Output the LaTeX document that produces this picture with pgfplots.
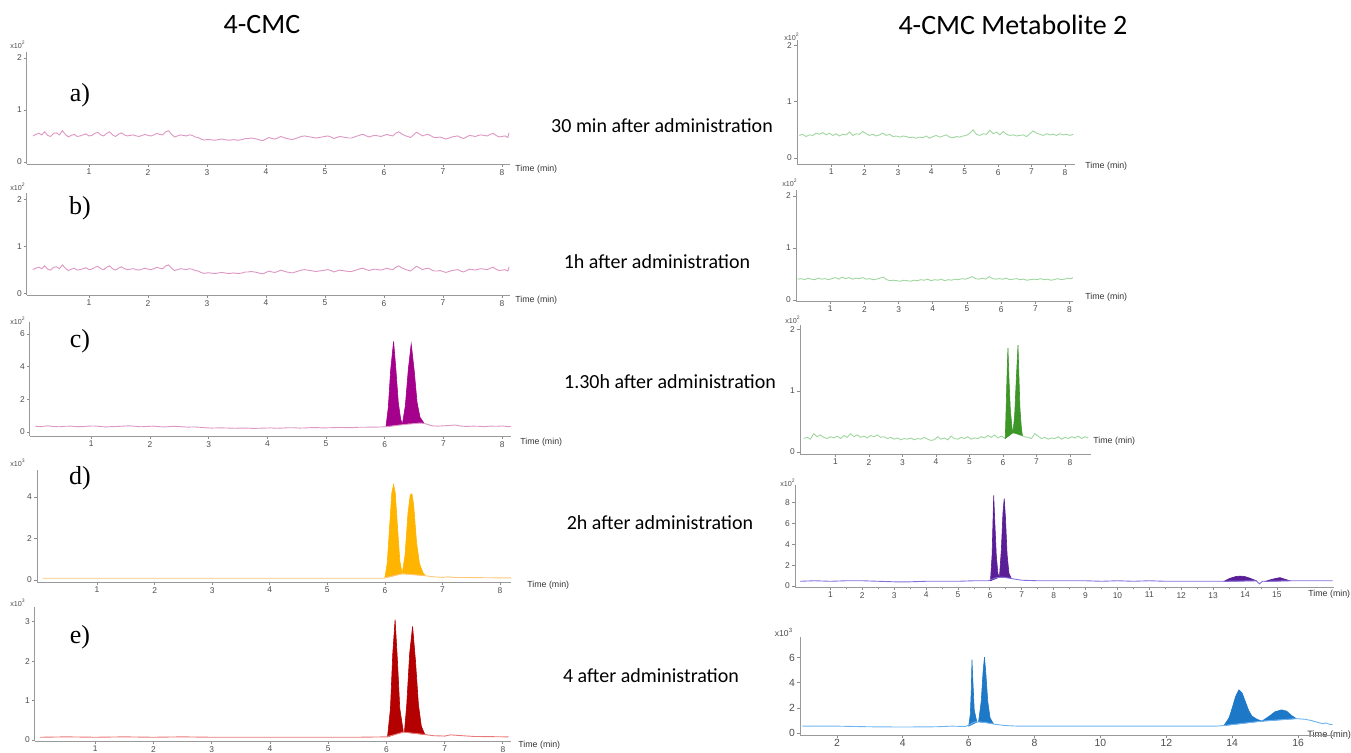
\documentclass[border=0pt]{standalone}
\usepackage{fontspec}
\setmainfont{Carlito}
\newfontfamily\tf{Liberation Sans}
\newfontfamily\serifL{Liberation Serif}
\usepackage{pgfplots}
\usepackage{pgfplotstable}
\pgfplotsset{compat=1.18}

\definecolor{pinkline}{RGB}{222,150,196}
\definecolor{magfill}{RGB}{165,0,140}
\definecolor{orfill}{RGB}{255,180,0}
\definecolor{orline}{RGB}{255,200,120}
\definecolor{redfill}{RGB}{180,0,0}
\definecolor{redline}{RGB}{235,120,120}
\definecolor{grline}{RGB}{160,215,160}
\definecolor{grfill}{RGB}{60,150,40}
\definecolor{pufill}{RGB}{90,30,150}
\definecolor{puline}{RGB}{130,110,220}
\definecolor{blfill}{RGB}{30,120,200}
\definecolor{blline}{RGB}{110,180,240}

% left a / b baseline (x10^2)
\pgfplotstableread[row sep=\\]{x y\\
0.05 0.50\\ 0.10 0.53\\ 0.15 0.55\\ 0.20 0.52\\ 0.25 0.58\\ 0.30 0.51\\ 0.35 0.49\\ 0.40 0.55\\ 0.45 0.56\\ 0.50 0.52\\ 0.55 0.60\\ 0.60 0.53\\ 0.65 0.48\\ 0.70 0.51\\ 0.75 0.53\\ 0.80 0.49\\ 0.85 0.50\\ 0.90 0.52\\ 0.95 0.54\\ 1.00 0.50\\
1.05 0.51\\ 1.10 0.55\\ 1.15 0.57\\ 1.20 0.52\\ 1.25 0.50\\ 1.30 0.55\\ 1.35 0.58\\ 1.40 0.52\\ 1.45 0.49\\ 1.50 0.53\\ 1.55 0.56\\ 1.60 0.52\\ 1.65 0.50\\ 1.70 0.51\\ 1.75 0.52\\ 1.80 0.50\\ 1.85 0.49\\ 1.90 0.51\\ 1.95 0.53\\ 2.00 0.51\\
2.05 0.50\\ 2.10 0.52\\ 2.15 0.55\\ 2.20 0.53\\ 2.25 0.52\\ 2.30 0.58\\ 2.35 0.60\\ 2.40 0.53\\ 2.45 0.48\\ 2.50 0.50\\ 2.55 0.52\\ 2.60 0.51\\ 2.65 0.50\\ 2.70 0.52\\ 2.75 0.51\\ 2.80 0.48\\ 2.85 0.47\\ 2.90 0.44\\ 2.95 0.42\\ 3.00 0.43\\
3.05 0.43\\ 3.10 0.42\\ 3.15 0.42\\ 3.20 0.43\\ 3.25 0.44\\ 3.30 0.43\\ 3.35 0.42\\ 3.40 0.42\\ 3.45 0.43\\ 3.50 0.42\\ 3.55 0.42\\ 3.60 0.43\\ 3.65 0.45\\ 3.70 0.45\\ 3.75 0.46\\ 3.80 0.45\\ 3.85 0.44\\ 3.90 0.42\\ 3.95 0.41\\ 4.00 0.44\\
4.05 0.47\\ 4.10 0.45\\ 4.15 0.44\\ 4.20 0.46\\ 4.25 0.49\\ 4.30 0.47\\ 4.35 0.45\\ 4.40 0.44\\ 4.45 0.43\\ 4.50 0.45\\ 4.55 0.47\\ 4.60 0.49\\ 4.65 0.50\\ 4.70 0.49\\ 4.75 0.48\\ 4.80 0.47\\ 4.85 0.46\\ 4.90 0.47\\ 4.95 0.48\\ 5.00 0.49\\
5.05 0.50\\ 5.10 0.48\\ 5.15 0.45\\ 5.20 0.47\\ 5.25 0.49\\ 5.30 0.48\\ 5.35 0.47\\ 5.40 0.46\\ 5.45 0.46\\ 5.50 0.48\\ 5.55 0.50\\ 5.60 0.52\\ 5.65 0.53\\ 5.70 0.50\\ 5.75 0.48\\ 5.80 0.50\\ 5.85 0.51\\ 5.90 0.50\\ 5.95 0.49\\ 6.00 0.51\\
6.05 0.53\\ 6.10 0.51\\ 6.15 0.50\\ 6.20 0.55\\ 6.25 0.58\\ 6.30 0.54\\ 6.35 0.51\\ 6.40 0.49\\ 6.45 0.47\\ 6.50 0.52\\ 6.55 0.57\\ 6.60 0.54\\ 6.65 0.50\\ 6.70 0.52\\ 6.75 0.53\\ 6.80 0.50\\ 6.85 0.47\\ 6.90 0.47\\ 6.95 0.48\\ 7.00 0.46\\
7.05 0.44\\ 7.10 0.46\\ 7.15 0.48\\ 7.20 0.49\\ 7.25 0.50\\ 7.30 0.47\\ 7.35 0.45\\ 7.40 0.48\\ 7.45 0.51\\ 7.50 0.50\\ 7.55 0.49\\ 7.60 0.51\\ 7.65 0.52\\ 7.70 0.51\\ 7.75 0.50\\ 7.80 0.53\\ 7.85 0.55\\ 7.90 0.51\\ 7.95 0.48\\ 8.00 0.49\\
8.05 0.50\\ 8.10 0.47\\ 8.12 0.56\\
}\tabAB

% right a baseline
\pgfplotstableread[row sep=\\]{x y\\
0.05 0.40\\ 0.15 0.42\\ 0.25 0.38\\ 0.35 0.41\\ 0.45 0.40\\ 0.55 0.44\\ 0.65 0.42\\ 0.75 0.45\\ 0.85 0.41\\ 0.95 0.44\\
1.05 0.40\\ 1.15 0.43\\ 1.25 0.39\\ 1.35 0.42\\ 1.45 0.41\\ 1.55 0.46\\ 1.65 0.40\\ 1.75 0.43\\ 1.85 0.42\\ 1.95 0.47\\
2.05 0.43\\ 2.15 0.40\\ 2.25 0.42\\ 2.35 0.39\\ 2.45 0.41\\ 2.55 0.44\\ 2.65 0.40\\ 2.75 0.42\\ 2.85 0.38\\ 2.95 0.39\\
3.05 0.37\\ 3.15 0.39\\ 3.25 0.38\\ 3.35 0.36\\ 3.45 0.37\\ 3.55 0.35\\ 3.65 0.37\\ 3.75 0.36\\ 3.85 0.39\\ 3.95 0.35\\
4.05 0.38\\ 4.15 0.40\\ 4.25 0.37\\ 4.35 0.39\\ 4.45 0.41\\ 4.55 0.37\\ 4.65 0.36\\ 4.75 0.38\\ 4.85 0.37\\ 4.95 0.39\\
5.05 0.40\\ 5.15 0.44\\ 5.25 0.50\\ 5.35 0.42\\ 5.45 0.40\\ 5.55 0.43\\ 5.65 0.42\\ 5.75 0.49\\ 5.85 0.43\\ 5.95 0.46\\
6.05 0.41\\ 6.15 0.47\\ 6.25 0.42\\ 6.35 0.40\\ 6.45 0.41\\ 6.55 0.39\\ 6.65 0.40\\ 6.75 0.41\\ 6.85 0.38\\ 6.95 0.43\\
7.05 0.48\\ 7.15 0.44\\ 7.25 0.42\\ 7.35 0.40\\ 7.45 0.43\\ 7.55 0.41\\ 7.65 0.42\\ 7.75 0.40\\ 7.85 0.43\\ 7.95 0.41\\
8.05 0.42\\ 8.15 0.40\\ 8.25 0.42\\
}\tabRA

% right b baseline
\pgfplotstableread[row sep=\\]{x y\\
0.05 0.40\\ 0.15 0.41\\ 0.25 0.39\\ 0.35 0.42\\ 0.45 0.40\\ 0.55 0.39\\ 0.65 0.42\\ 0.75 0.40\\ 0.85 0.41\\ 0.95 0.39\\
1.05 0.41\\ 1.15 0.43\\ 1.25 0.40\\ 1.35 0.44\\ 1.45 0.41\\ 1.55 0.43\\ 1.65 0.40\\ 1.75 0.42\\ 1.85 0.41\\ 1.95 0.43\\
2.05 0.40\\ 2.15 0.41\\ 2.25 0.39\\ 2.35 0.40\\ 2.45 0.42\\ 2.55 0.44\\ 2.65 0.39\\ 2.75 0.37\\ 2.85 0.38\\ 2.95 0.37\\
3.05 0.36\\ 3.15 0.38\\ 3.25 0.37\\ 3.35 0.36\\ 3.45 0.38\\ 3.55 0.37\\ 3.65 0.39\\ 3.75 0.38\\ 3.85 0.40\\ 3.95 0.37\\
4.05 0.39\\ 4.15 0.38\\ 4.25 0.40\\ 4.35 0.37\\ 4.45 0.39\\ 4.55 0.38\\ 4.65 0.40\\ 4.75 0.39\\ 4.85 0.41\\ 4.95 0.40\\
5.05 0.42\\ 5.15 0.45\\ 5.25 0.41\\ 5.35 0.40\\ 5.45 0.42\\ 5.55 0.40\\ 5.65 0.45\\ 5.75 0.41\\ 5.85 0.40\\ 5.95 0.41\\
6.05 0.40\\ 6.15 0.42\\ 6.25 0.39\\ 6.35 0.40\\ 6.45 0.41\\ 6.55 0.39\\ 6.65 0.40\\ 6.75 0.38\\ 6.85 0.39\\ 6.95 0.40\\
7.05 0.39\\ 7.15 0.41\\ 7.25 0.39\\ 7.35 0.40\\ 7.45 0.38\\ 7.55 0.39\\ 7.65 0.41\\ 7.75 0.39\\ 7.85 0.40\\ 7.95 0.42\\
8.05 0.41\\ 8.10 0.43\\
}\tabRB

% right c baseline
\pgfplotstableread[row sep=\\]{x y\\
0.05 0.22\\ 0.15 0.24\\ 0.25 0.21\\ 0.35 0.30\\ 0.45 0.25\\ 0.55 0.28\\ 0.65 0.24\\ 0.75 0.22\\ 0.85 0.25\\ 0.95 0.23\\
1.05 0.26\\ 1.15 0.22\\ 1.25 0.27\\ 1.35 0.24\\ 1.45 0.30\\ 1.55 0.25\\ 1.65 0.28\\ 1.75 0.24\\ 1.85 0.26\\ 1.95 0.23\\
2.05 0.27\\ 2.15 0.25\\ 2.25 0.28\\ 2.35 0.24\\ 2.45 0.25\\ 2.55 0.22\\ 2.65 0.24\\ 2.75 0.21\\ 2.85 0.23\\ 2.95 0.20\\
3.05 0.22\\ 3.15 0.21\\ 3.25 0.23\\ 3.35 0.20\\ 3.45 0.22\\ 3.55 0.21\\ 3.65 0.24\\ 3.75 0.21\\ 3.85 0.19\\ 3.95 0.20\\
4.05 0.25\\ 4.15 0.21\\ 4.25 0.23\\ 4.35 0.20\\ 4.45 0.26\\ 4.55 0.22\\ 4.65 0.21\\ 4.75 0.24\\ 4.85 0.22\\ 4.95 0.25\\
5.05 0.21\\ 5.15 0.23\\ 5.25 0.22\\ 5.35 0.25\\ 5.45 0.23\\ 5.55 0.27\\ 5.65 0.24\\ 5.75 0.28\\ 5.85 0.23\\ 5.95 0.26\\
6.05 0.23\\ 6.15 0.26\\ 6.25 0.30\\ 6.35 0.31\\ 6.45 0.29\\ 6.55 0.27\\ 6.65 0.25\\ 6.75 0.24\\ 6.85 0.22\\ 6.95 0.30\\
7.05 0.26\\ 7.15 0.22\\ 7.25 0.24\\ 7.35 0.21\\ 7.45 0.23\\ 7.55 0.22\\ 7.65 0.25\\ 7.75 0.21\\ 7.85 0.24\\ 7.95 0.22\\
8.05 0.25\\ 8.15 0.23\\ 8.25 0.26\\ 8.35 0.22\\ 8.45 0.25\\ 8.55 0.23\\
}\tabRC

% left c baseline
\pgfplotstableread[row sep=\\]{x y\\
0.05 0.35\\ 0.15 0.33\\ 0.25 0.38\\ 0.35 0.34\\ 0.45 0.32\\ 0.55 0.35\\ 0.65 0.36\\ 0.75 0.33\\ 0.85 0.33\\ 0.95 0.36\\
1.05 0.37\\ 1.15 0.34\\ 1.25 0.31\\ 1.35 0.33\\ 1.45 0.34\\ 1.55 0.36\\ 1.65 0.38\\ 1.75 0.35\\ 1.85 0.32\\ 1.95 0.34\\
2.05 0.36\\ 2.15 0.33\\ 2.25 0.31\\ 2.35 0.34\\ 2.45 0.35\\ 2.55 0.32\\ 2.65 0.30\\ 2.75 0.31\\ 2.85 0.29\\ 2.95 0.26\\
3.05 0.24\\ 3.15 0.25\\ 3.25 0.25\\ 3.35 0.24\\ 3.45 0.23\\ 3.55 0.24\\ 3.65 0.24\\ 3.75 0.22\\ 3.85 0.23\\ 3.95 0.24\\
4.05 0.25\\ 4.15 0.23\\ 4.25 0.24\\ 4.35 0.26\\ 4.45 0.26\\ 4.55 0.24\\ 4.65 0.25\\ 4.75 0.27\\ 4.85 0.27\\ 4.95 0.25\\
5.05 0.26\\ 5.15 0.27\\ 5.25 0.28\\ 5.35 0.27\\ 5.45 0.27\\ 5.55 0.29\\ 5.65 0.29\\ 5.75 0.30\\ 5.85 0.30\\ 5.95 0.31\\
6.05 0.34\\ 6.20 0.40\\ 6.40 0.48\\ 6.60 0.55\\ 6.70 0.50\\ 6.80 0.38\\ 6.90 0.36\\ 7.00 0.38\\ 7.10 0.40\\ 7.20 0.43\\
7.30 0.36\\ 7.40 0.34\\ 7.50 0.36\\ 7.60 0.35\\ 7.70 0.33\\ 7.80 0.36\\ 7.90 0.35\\ 8.00 0.37\\ 8.10 0.33\\ 8.15 0.34\\
}\tabLC

\pgfplotsset{
  chrom/.style={
    scale only axis, anchor=south west,
    axis x line*=bottom, axis y line*=left,
    axis line style={-, draw=black!40, line width=0.5pt},
    tick style={draw=black!45, line width=0.4pt},
    major tick length=1.6pt, tick align=outside,
    ticklabel style={font=\tf\fontsize{4.2}{5}\selectfont, text=black!70},
    xticklabel style={inner sep=0.8pt},
    yticklabel style={inner sep=0.8pt},
    /pgf/number format/assume math mode=true,
    scaled ticks=false,
    xtick={1,...,8},
  },
  base/.style={line width=0.45pt, #1},
  peak/.style={fill=#1, draw=#1, line width=0.3pt},
}

\begin{document}
\begin{tikzpicture}
\useasboundingbox (0,0) rectangle (675.5pt,376pt);

% ---------- titles & labels ----------
\node[font=\fontsize{14}{16}\selectfont] at (131pt,363.5pt) {4-CMC};
\node[font=\fontsize{14}{16}\selectfont] at (506.5pt,363.5pt) {4-CMC Metabolite 2};
\node[font=\fontsize{10}{12}\selectfont] at (331pt,313pt) {30 min after administration};
\node[font=\fontsize{10}{12}\selectfont] at (328.5pt,245pt) {1h after administration};
\node[font=\fontsize{10}{12}\selectfont] at (335pt,185pt) {1.30h after administration};
\node[font=\fontsize{10}{12}\selectfont] at (330pt,114.5pt) {2h after administration};
\node[font=\fontsize{10}{12}\selectfont] at (325.5pt,38pt) {4 after administration};
\foreach \l/\yy in {a)/328.5, b)/272, c)/205.5, d)/137, e)/57.5}
  \node[font=\serifL\fontsize{13}{14}\selectfont] at (40pt,\yy pt) {\l};

% multipliers
\foreach \xx/\yy/\m in {9/353.5/2, 9/282.5/2, 9/215.5/2, 9/144.5/3, 9/74.5/3, 396/357.5/2, 395/284.5/2, 396.5/216/2, 394/134.5/2}
  \node[font=\tf\fontsize{3.6}{4}\selectfont, text=black!70] at (\xx pt,\yy pt) {x10\textsuperscript{\m}};
\node[font=\tf\fontsize{4.3}{5}\selectfont, text=black!70] at (392pt,60pt) {x10\textsuperscript{3}};

% Time (min)
\foreach \xx/\yy in {257.5/291.5, 257.5/226, 260/155, 263.5/83.5, 259/3.5, 542.5/293, 542.5/227.5, 546.5/155.5, 654/79}
  \node[anchor=west, font=\tf\fontsize{4.4}{5}\selectfont, text=black!80, inner sep=0pt] at (\xx pt,\yy pt) {Time (min)};
\node[anchor=west, font=\tf\fontsize{4.6}{5}\selectfont, text=black!80, inner sep=0pt] at (653.5pt,8.5pt) {Time (min)};

% ---------- left a ----------
\begin{axis}[chrom, at={(13.5pt,294pt)}, width=241.5pt, height=56pt,
  xmin=-0.05, xmax=8.136, ymin=-0.04, ymax=2.115, ytick={0,1,2}]
\addplot[base=pinkline] table[x=x,y=y] {\tabAB};
\end{axis}

% ---------- left b ----------
\begin{axis}[chrom, at={(13.5pt,228.5pt)}, width=241.5pt, height=51pt,
  xmin=-0.05, xmax=8.136, ymin=-0.04, ymax=2.13, ytick={0,1,2}]
\addplot[base=pinkline] table[x=x,y=y] {\tabAB};
\end{axis}

% ---------- left c ----------
\begin{axis}[chrom, at={(15pt,158pt)}, width=240.5pt, height=57pt,
  xmin=-0.043, xmax=8.15, ymin=-0.245, ymax=6.74, ytick={0,2,4,6}]
\addplot[peak=magfill] coordinates {(6.02,0.32) (6.06,1.5) (6.10,3.8) (6.15,5.55) (6.19,3.8) (6.23,1.8) (6.27,0.8) (6.30,0.48)} -- cycle;
\addplot[peak=magfill] coordinates {(6.30,0.48) (6.35,1.6) (6.40,3.8) (6.45,5.4) (6.50,3.8) (6.55,1.8) (6.60,0.9) (6.66,0.58)} -- cycle;
\addplot[base=pinkline] table[x=x,y=y] {\tabLC};
\end{axis}

% ---------- left d ----------
\begin{axis}[chrom, at={(18.5pt,85pt)}, width=237pt, height=56pt,
  xmin=-0.043, xmax=8.19, ymin=-0.1, ymax=5.3, ytick={0,2,4}]
\addplot[peak=orfill] coordinates {(6.00,0.10) (6.04,0.8) (6.08,2.5) (6.12,4.2) (6.15,4.6) (6.18,4.2) (6.22,2.5) (6.26,0.9) (6.30,0.30)} -- cycle;
\addplot[peak=orfill] coordinates {(6.30,0.30) (6.35,1.2) (6.40,3.2) (6.44,4.1) (6.47,4.15) (6.50,3.6) (6.55,1.8) (6.60,0.8) (6.66,0.35) (6.70,0.22)} -- cycle;
\addplot[base=orline] coordinates {(0.05,0.08) (1,0.08) (2,0.08) (3,0.08) (4,0.08) (5,0.08) (5.97,0.08) (6.15,0.2) (6.30,0.30) (6.50,0.25) (6.70,0.20) (6.85,0.15) (7.00,0.12) (7.10,0.15) (7.20,0.12) (8.0,0.10) (8.19,0.10)};
\end{axis}

% ---------- left e ----------
\begin{axis}[chrom, at={(17.5pt,5.5pt)}, width=238pt, height=67pt,
  xmin=-0.034, xmax=8.14, ymin=-0.025, ymax=3.37, ytick={0,1,2,3}]
\addplot[peak=redfill] coordinates {(6.02,0.08) (6.07,0.8) (6.11,2.2) (6.15,3.05) (6.19,2.0) (6.23,0.8) (6.29,0.22)} -- cycle;
\addplot[peak=redfill] coordinates {(6.31,0.20) (6.35,0.9) (6.40,2.2) (6.45,2.88) (6.50,2.0) (6.55,0.9) (6.60,0.35) (6.66,0.14)} -- cycle;
\addplot[base=redline] coordinates {(0.05,0.07) (0.5,0.08) (1,0.07) (1.5,0.08) (2,0.07) (2.5,0.08) (3,0.07) (3.5,0.07) (4,0.07) (4.5,0.07) (5,0.07) (5.5,0.07) (6.0,0.08) (6.3,0.2) (6.66,0.14) (6.8,0.11) (7.0,0.10) (7.1,0.13) (7.5,0.09) (8.1,0.08)};
\end{axis}

% ---------- right a ----------
\begin{axis}[chrom, at={(398.5pt,294pt)}, width=139pt, height=62pt,
  xmin=-0.02, xmax=8.3, ymin=-0.106, ymax=2.09, ytick={0,1,2}]
\addplot[base=grline] table[x=x,y=y] {\tabRA};
\end{axis}

% ---------- right b ----------
\begin{axis}[chrom, at={(398pt,225.5pt)}, width=138.5pt, height=55.5pt,
  xmin=0, xmax=8.1, ymin=-0.02, ymax=2.115, ytick={0,1,2}]
\addplot[base=grline] table[x=x,y=y] {\tabRB};
\end{axis}

% ---------- right c ----------
\begin{axis}[chrom, at={(400pt,149pt)}, width=145.5pt, height=64.5pt,
  xmin=-0.06, xmax=8.63, ymin=-0.033, ymax=2.08, ytick={0,1,2}]
\addplot[base=grline] table[x=x,y=y] {\tabRC};
\addplot[peak=grfill] coordinates {(6.07,0.22) (6.10,0.8) (6.13,1.4) (6.15,1.70) (6.18,1.2) (6.22,0.7) (6.27,0.4) (6.30,0.32)} -- cycle;
\addplot[peak=grfill] coordinates {(6.30,0.32) (6.35,0.6) (6.40,1.2) (6.45,1.75) (6.48,1.2) (6.51,0.7) (6.55,0.4) (6.58,0.27)} -- cycle;
\end{axis}

% ---------- right d ----------
\begin{axis}[chrom, at={(397.5pt,82.5pt)}, width=269.5pt, height=51pt,
  xmin=-0.11, xmax=16.79, ymin=-0.1, ymax=9.7, ytick={0,2,4,6,8}, xtick={1,...,15},
  minor x tick num=1, minor tick length=1.2pt]
\addplot[peak=pufill] coordinates {(6.02,0.5) (6.07,3) (6.10,6.5) (6.12,8.7) (6.15,6.5) (6.20,3) (6.25,1.2) (6.30,0.85)} -- cycle;
\addplot[peak=pufill] coordinates {(6.30,0.85) (6.36,3.5) (6.41,7) (6.45,8.4) (6.49,6.5) (6.54,3) (6.60,1.2) (6.66,0.8)} -- cycle;
\addplot[peak=pufill] coordinates {(13.35,0.45) (13.5,0.7) (13.7,0.9) (13.85,0.95) (14.0,0.9) (14.15,0.75) (14.35,0.5)} -- cycle;
\addplot[peak=pufill] coordinates {(14.65,0.45) (14.8,0.6) (15.0,0.75) (15.1,0.8) (15.25,0.65) (15.4,0.5)} -- cycle;
\addplot[base=puline] coordinates {(0.05,0.45) (0.5,0.5) (1,0.45) (1.5,0.5) (2,0.5) (2.5,0.45) (3,0.4) (3.5,0.4) (4,0.45) (4.5,0.45) (5,0.45) (5.5,0.5) (5.95,0.5) (6.2,0.8) (6.4,0.85) (6.7,0.7) (7,0.55) (7.5,0.5) (8,0.5) (8.5,0.5) (9,0.5) (9.5,0.45) (10,0.5) (10.5,0.45) (11,0.5) (11.5,0.45) (12,0.45) (12.5,0.45) (13,0.45) (13.35,0.45) (14.35,0.5) (14.45,0.2) (14.55,0.45) (14.65,0.45) (15.4,0.5) (16,0.5) (16.5,0.5) (16.75,0.5)};
\end{axis}

% ---------- right e ----------
\begin{axis}[chrom, at={(400pt,8.5pt)}, width=267.5pt, height=49pt,
  xmin=0.88, xmax=17.12, ymin=-0.156, ymax=7.66, ytick={0,2,4,6}, xtick={2,4,...,16},
  ticklabel style={font=\tf\fontsize{5.2}{6}\selectfont, text=black!70},
  xticklabel style={inner sep=0.5pt}]
\addplot[peak=blfill] coordinates {(6.00,0.55) (6.05,1.5) (6.08,3.5) (6.10,5.85) (6.13,4.0) (6.17,1.8) (6.25,0.88)} -- cycle;
\addplot[peak=blfill] coordinates {(6.30,0.90) (6.38,2.5) (6.44,5.0) (6.48,6.05) (6.52,4.8) (6.58,2.5) (6.65,1.2) (6.75,0.75)} -- cycle;
\addplot[peak=blfill] coordinates {(13.75,0.6) (13.9,1.2) (14.0,2.0) (14.1,2.9) (14.2,3.45) (14.3,3.2) (14.4,2.5) (14.5,1.8) (14.6,1.35) (14.75,1.1) (14.9,0.95)} -- cycle;
\addplot[peak=blfill] coordinates {(14.9,0.95) (15.1,1.3) (15.3,1.7) (15.5,1.85) (15.65,1.75) (15.8,1.4) (15.95,1.15)} -- cycle;
\addplot[base=blline] coordinates {(0.95,0.55) (1.5,0.55) (2,0.55) (3,0.5) (4,0.48) (5,0.5) (5.5,0.55) (5.9,0.52) (6.2,0.9) (6.5,0.85) (6.8,0.7) (7.1,0.6) (7.5,0.55) (8,0.55) (9,0.55) (10,0.55) (11,0.55) (12,0.55) (13,0.55) (13.5,0.55) (13.75,0.6) (14.9,0.95) (15.95,1.15) (16.2,1.1) (16.4,1.0) (16.6,0.85) (16.75,0.75) (16.85,0.8) (16.95,0.7) (17.05,0.68)};
\end{axis}

\end{tikzpicture}
\end{document}
